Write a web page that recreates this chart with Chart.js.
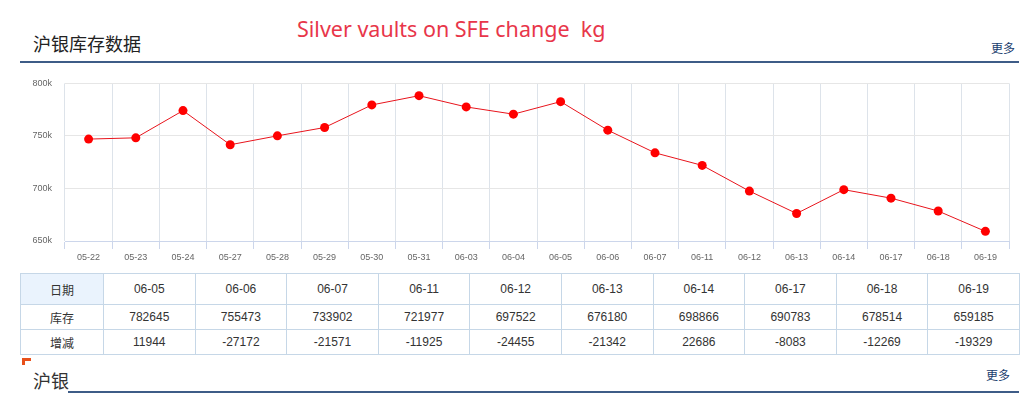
<!DOCTYPE html>
<html>
<head>
<meta charset="utf-8">
<script src="https://cdn.jsdelivr.net/npm/chart.js@4.4.0/dist/chart.umd.min.js"></script>
<style>
  body { margin: 0; background: #fff; width: 1036px; height: 393px; position: relative; overflow: hidden; font-family: 'Liberation Sans', Arial, sans-serif; }
  .abs { position: absolute; }
  #title { left: 33px; top: 31px; font: 18px 'Noto Sans CJK SC', sans-serif; color: #222; line-height: 24px; }
  #red { left: 297px; top: 14px; font: 21.5px 'Noto Sans', sans-serif; color: #e8364a; white-space: pre; line-height: 30px; }
  .more { font: 12px 'Noto Sans CJK SC', sans-serif; color: #1a3d6e; line-height: 14px; }
  .bar { background: #3e5c87; height: 2px; }
  #wrap { left: 20px; top: 65px; width: 1000px; height: 205px; }
  table { position: absolute; left: 20px; top: 273px; border-collapse: collapse; font: 12px 'Liberation Sans', Arial, sans-serif; color: #333; }
  td { border: 1px solid #c6d7e7; text-align: center; padding: 0; }
  tr.h td { height: 30px; }
  tr.r td { height: 24px; }
  td.first { width: 82px; font-family: 'Noto Sans CJK SC', sans-serif; }
  td.d { width: 90.6px; }
  td.lab { background: #eaf3fd; }
</style>
</head>
<body>
<div class="abs" id="red">Silver vaults on SFE change  kg</div>
<div class="abs" id="title">沪银库存数据</div>
<div class="abs more" style="left:991px; top:41px;">更多</div>
<div class="abs bar" style="left:20px; top:61px; width:999px;"></div>
<div class="abs" id="wrap"><canvas id="c" width="1000" height="205"></canvas></div>
<table id="tbl"></table>
<div class="abs" style="left:22px; top:358px; width:9px; height:3px; background:#e8501a;"></div>
<div class="abs" style="left:22px; top:358px; width:3px; height:7px; background:#e8501a;"></div>
<div class="abs" style="left:33px; top:368px; font:18px 'Noto Sans CJK SC', sans-serif; color:#333; line-height:24px;">沪银</div>
<div class="abs more" style="left:986px; top:368px;">更多</div>
<div class="abs bar" style="left:68px; top:391px; width:951px;"></div>
<script>
const dates = ['05-22', '05-23', '05-24', '05-27', '05-28', '05-29', '05-30', '05-31', '06-03', '06-04',
  '06-05', '06-06', '06-07', '06-11', '06-12', '06-13', '06-14', '06-17', '06-18', '06-19'];
const stock = [747000, 748200, 774100, 741600, 750100, 758000, 779500, 788300, 777600, 770701,
  782645, 755473, 733902, 721977, 697522, 676180, 698866, 690783, 678514, 659185];
const tableDates = ['06-05', '06-06', '06-07', '06-11', '06-12', '06-13', '06-14', '06-17', '06-18', '06-19'];
const tableStock = [782645, 755473, 733902, 721977, 697522, 676180, 698866, 690783, 678514, 659185];
const tableChange = [11944, -27172, -21571, -11925, -24455, -21342, 22686, -8083, -12269, -19329];
const yTicks = [650000, 700000, 750000, 800000];

// table under the chart
function row(cls, label, vals, labCls) {
  let html = '<tr class="' + cls + '"><td class="first ' + (labCls || '') + '">' + label + '</td>';
  vals.forEach(v => { html += '<td class="d">' + v + '</td>'; });
  return html + '</tr>';
}
document.getElementById('tbl').innerHTML =
  row('h', '日期', tableDates, 'lab') + row('r', '库存', tableStock) + row('r', '增减', tableChange);

const ctx = document.getElementById('c').getContext('2d');
new Chart(ctx, {
  type: 'line',
  data: {
    labels: dates,
    datasets: [{
      data: stock,
      borderColor: '#e8141c',
      borderWidth: 1,
      pointRadius: 4.5,
      pointBackgroundColor: '#ff0000',
      pointBorderWidth: 0,
      tension: 0
    }]
  },
  options: {
    responsive: false,
    animation: false,
    devicePixelRatio: 1,
    events: [],
    layout: { padding: { top: 8, right: 11, left: 0, bottom: 0 } },
    plugins: { legend: { display: false }, tooltip: { enabled: false } },
    scales: {
      x: {
        offset: true,
        grid: { offset: true, color: '#dde3ea', tickColor: '#ccd6eb', tickLength: 8 },
        border: { color: '#ccd6eb' },
        ticks: { color: '#666', font: { family: 'Liberation Sans', size: 9 }, maxRotation: 0, autoSkip: false, padding: 3 },
        afterFit: s => { s.height = 29; }
      },
      y: {
        min: 650000,
        max: 800000,
        afterBuildTicks: s => { s.ticks = yTicks.map(v => ({ value: v })); },
        grid: { color: '#e6e6e6', drawTicks: false },
        border: { display: false },
        ticks: {
          color: '#666',
          font: { family: 'Liberation Sans', size: 9 },
          padding: 13,
          callback: v => (v / 1000) + 'k'
        },
        afterFit: s => { s.width = 45; }
      }
    }
  }
});
</script>
</body>
</html>
